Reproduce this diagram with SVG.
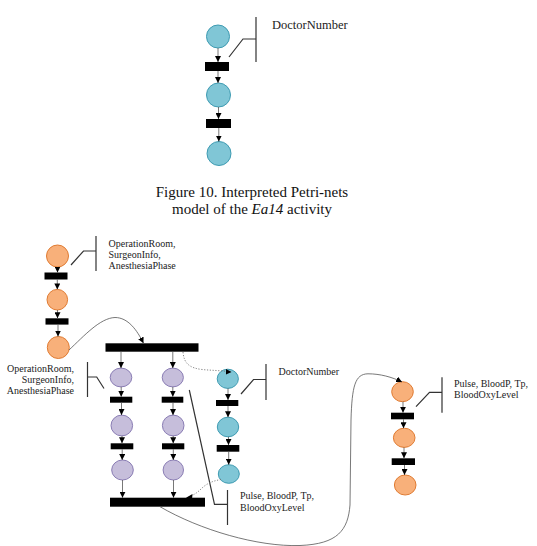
<svg xmlns="http://www.w3.org/2000/svg" width="537" height="546" viewBox="0 0 537 546">
<defs>
<marker id="ah" markerUnits="userSpaceOnUse" markerWidth="6" markerHeight="6" refX="6" refY="3" orient="auto">
<path d="M0,0 L6,3 L0,6 z" fill="#000"/>
</marker>
<style>
.teal{fill:#80C6D6;stroke:#3E9BB2;stroke-width:1}
.orng{fill:#F8B07A;stroke:#E07B32;stroke-width:1}
.purp{fill:#C6BEDB;stroke:#8A7DB4;stroke-width:1}
.bar{fill:#000}
.arr{stroke:#555;stroke-width:0.8;fill:none;marker-end:url(#ah)}
.curve{stroke:#555;stroke-width:0.8;fill:none}
.dot{stroke:#777;stroke-width:0.9;fill:none;stroke-dasharray:1.2 1.6}
.ann{stroke:#333;stroke-width:1.2;fill:none}
.lbl{font-family:"Liberation Serif","Times New Roman",serif;font-size:10px;fill:#222}
.cap{font-family:"Liberation Serif","Times New Roman",serif;font-size:15px;fill:#111}
</style>
</defs>

<g id="top-net">
<circle class="teal" cx="218" cy="36.5" r="11.5"/>
<rect class="bar" x="205" y="62" width="24" height="9"/>
<circle class="teal" cx="218.5" cy="95" r="12"/>
<rect class="bar" x="206" y="119" width="25" height="9"/>
<circle class="teal" cx="219" cy="153.5" r="12"/>
</g>
<g id="top-annotation">
<path class="ann" d="M229,57 L243,39 L256,39 M256,17 L256,62"/>
<text class="lbl" x="272" y="29" style="font-size:12.5px">DoctorNumber</text>
</g>

<g id="caption">
<text class="cap" x="252" y="197" text-anchor="middle">Figure 10. Interpreted Petri-nets</text>
<text class="cap" x="252" y="214" text-anchor="middle">model of the <tspan font-style="italic">Ea14</tspan> activity</text>
</g>

<g id="left-orange">
<circle class="orng" cx="57.5" cy="256" r="11"/>
<rect class="bar" x="44.5" y="272.5" width="23" height="7"/>
<circle class="orng" cx="57.3" cy="299.7" r="10.3"/>
<rect class="bar" x="45.5" y="318.3" width="23" height="6.3"/>
<circle class="orng" cx="58.3" cy="347.5" r="11"/>
</g>
<g id="left-orange-annotation">
<path class="ann" d="M71,265 L83.5,251 L96,251 M96,236 L96,271"/>
<text class="lbl" x="108.5" y="246.5">OperationRoom,</text>
<text class="lbl" x="108.5" y="257.5">SurgeonInfo,</text>
<text class="lbl" x="108.5" y="268.5">AnesthesiaPhase</text>
</g>

<g id="fork-bar"><rect class="bar" x="105.5" y="343.3" width="93" height="8.4"/></g>

<g id="purple-1">
<ellipse class="purp" cx="121" cy="377.5" rx="10.8" ry="9.4"/>
<rect class="bar" x="110" y="396.7" width="22.3" height="6"/>
<ellipse class="purp" cx="121.8" cy="425.5" rx="10.8" ry="10.4"/>
<rect class="bar" x="110.7" y="443.3" width="22.6" height="6"/>
<ellipse class="purp" cx="122.5" cy="470" rx="10.8" ry="10"/>
</g>
<g id="purple-2">
<ellipse class="purp" cx="172.8" cy="377.5" rx="10.6" ry="9.4"/>
<rect class="bar" x="161.7" y="396.7" width="21.6" height="6"/>
<ellipse class="purp" cx="173.2" cy="425.5" rx="10.8" ry="10.4"/>
<rect class="bar" x="162" y="443.3" width="22.3" height="6"/>
<ellipse class="purp" cx="173.3" cy="470" rx="10.2" ry="10"/>
</g>
<g id="purple-annotation">
<path class="ann" d="M104,388.5 L96.7,377 L87.5,377 M87.5,362 L87.5,397"/>
<text class="lbl" x="74" y="372" text-anchor="end">OperationRoom,</text>
<text class="lbl" x="74" y="383" text-anchor="end">SurgeonInfo,</text>
<text class="lbl" x="74" y="394" text-anchor="end">AnesthesiaPhase</text>
</g>

<g id="teal-chain">
<ellipse class="teal" cx="227.8" cy="378.8" rx="10.6" ry="9.6"/>
<rect class="bar" x="216" y="400" width="22.3" height="6"/>
<ellipse class="teal" cx="228" cy="427" rx="10.7" ry="9.8"/>
<rect class="bar" x="216.7" y="445" width="22.6" height="6.7"/>
<ellipse class="teal" cx="228.8" cy="474" rx="10.5" ry="9.3"/>
</g>
<g id="teal-annotation">
<path class="ann" d="M241,394 L253.5,379.5 L266,379.5 M266,364 L266,400"/>
<text class="lbl" x="278.5" y="374.5">DoctorNumber</text>
</g>

<g id="join-bar"><rect class="bar" x="110" y="497.7" width="95" height="9"/></g>

<g id="pulse-annotation">
<path class="ann" d="M189.3,390 L214.5,504.3 L227.5,504.3 M227.5,490 L227.5,525"/>
<text class="lbl" x="240" y="499.3">Pulse, BloodP, Tp,</text>
<text class="lbl" x="240" y="510.5">BloodOxyLevel</text>
</g>

<g id="right-orange">
<ellipse class="orng" cx="402.5" cy="391.7" rx="10.8" ry="10"/>
<rect class="bar" x="391" y="412.7" width="23" height="6.6"/>
<ellipse class="orng" cx="404.2" cy="437.8" rx="10.8" ry="9.6"/>
<rect class="bar" x="391.7" y="458.3" width="23.3" height="6.7"/>
<ellipse class="orng" cx="405.2" cy="485" rx="10.8" ry="10"/>
</g>
<g id="right-orange-annotation">
<path class="ann" d="M416,406.7 L429.5,392.3 L442,392.3 M442,377.3 L442,412.7"/>
<text class="lbl" x="454" y="386.7">Pulse, BloodP, Tp,</text>
<text class="lbl" x="454" y="397.7">BloodOxyLevel</text>
</g>

<g id="connectors">
<!-- top chain -->
<line class="arr" x1="218" y1="48" x2="218" y2="62"/>
<line class="arr" x1="218" y1="71" x2="218" y2="83"/>
<line class="arr" x1="218.5" y1="107" x2="218.5" y2="119"/>
<line class="arr" x1="218.8" y1="128" x2="218.8" y2="141.5"/>
<!-- left orange chain -->
<line class="arr" x1="57.5" y1="267" x2="57.5" y2="272.5"/>
<line class="arr" x1="57.3" y1="279.5" x2="57.3" y2="289.4"/>
<line class="arr" x1="57.5" y1="310" x2="57.5" y2="318.3"/>
<line class="arr" x1="58" y1="324.6" x2="58" y2="336.5"/>
<path class="arr" d="M69,350 C 84,336 100,318 115,317.5 C 128,317.5 137,330 143.5,343.3"/>
<!-- purple chains -->
<line class="arr" x1="121" y1="351.7" x2="121" y2="368.1"/>
<line class="arr" x1="121.2" y1="386.9" x2="121.2" y2="396.7"/>
<line class="arr" x1="121.5" y1="402.7" x2="121.5" y2="415.1"/>
<line class="arr" x1="122" y1="435.9" x2="122" y2="443.3"/>
<line class="arr" x1="122.2" y1="449.3" x2="122.2" y2="460"/>
<line class="arr" x1="122.5" y1="480" x2="122.5" y2="497.7"/>
<line class="arr" x1="172.8" y1="351.7" x2="172.8" y2="368.1"/>
<line class="arr" x1="172.8" y1="386.9" x2="172.8" y2="396.7"/>
<line class="arr" x1="173" y1="402.7" x2="173" y2="415.1"/>
<line class="arr" x1="173.2" y1="435.9" x2="173.2" y2="443.3"/>
<line class="arr" x1="173.3" y1="449.3" x2="173.3" y2="460"/>
<line class="arr" x1="173.5" y1="480" x2="173.5" y2="497.7"/>
<!-- teal chain -->
<line class="arr" x1="228" y1="388.4" x2="228" y2="400"/>
<line class="arr" x1="228" y1="406" x2="228" y2="417.2"/>
<line class="arr" x1="228.5" y1="436.8" x2="228.5" y2="445"/>
<line class="arr" x1="228.7" y1="451.7" x2="228.7" y2="464.7"/>
<!-- dotted -->
<path class="dot" d="M183,352 C 184,364 190,368 202,369.5 C 212,370.5 222,370.5 231,372"/>
<path d="M226,369 L231.5,372 L226,374.5 z" fill="#000"/>
<path class="dot" d="M221,479.5 C 212,481 206,484 201,489 C 197,493 193,495.5 187,497.5"/>
<path d="M192.5,494 L186,497.7 L192,499.5 z" fill="#000"/>
<!-- right orange chain -->
<line class="arr" x1="403" y1="401.7" x2="403" y2="412.7"/>
<line class="arr" x1="403.5" y1="419.3" x2="403.5" y2="428.2"/>
<line class="arr" x1="404" y1="447.4" x2="404" y2="458.3"/>
<line class="arr" x1="404.5" y1="465" x2="404.5" y2="475"/>
<!-- long curve -->
<path class="arr" d="M160,506.7 C 200,530 258,547 300,545.5 C 338,544 348,530 350,505 L 351,420 C 352,386 355,374 368,373.8 C 380,373.8 392,377 402,382"/>
</g>
</svg>
